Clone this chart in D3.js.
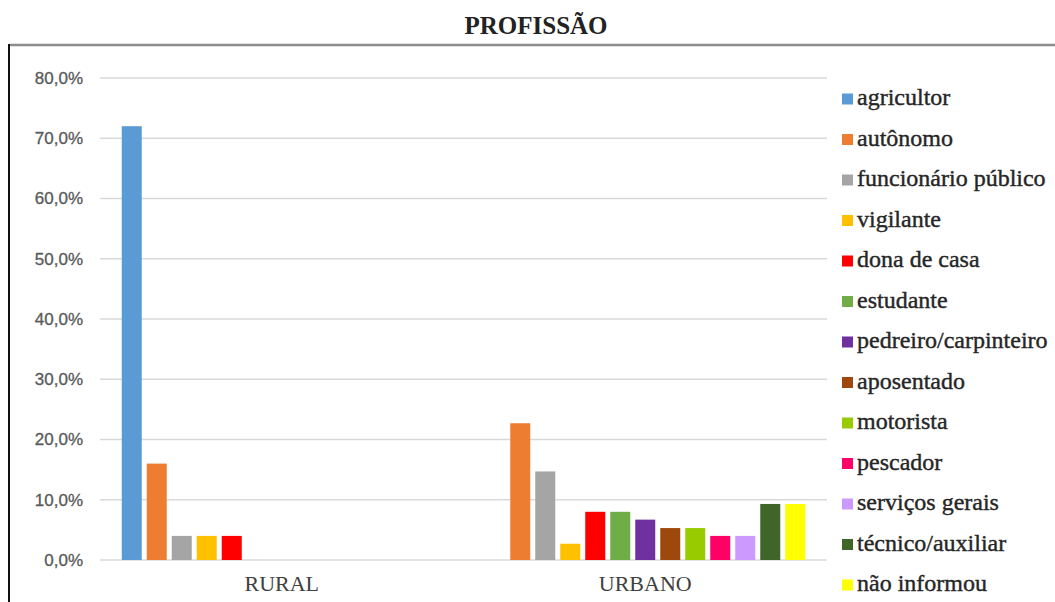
<!DOCTYPE html>
<html>
<head>
<meta charset="utf-8">
<script src="https://cdn.jsdelivr.net/npm/d3@7"></script>
<style>
  html, body { margin: 0; padding: 0; background: #ffffff; }
  svg { display: block; }
  .serif { font-family: "Liberation Serif", "Times New Roman", "DejaVu Serif", serif; }
  .sans { font-family: "Liberation Sans", Arial, sans-serif; }
</style>
</head>
<body>
<svg id="chart" width="1055" height="602"></svg>
<script>
// ---- data ----
const categories = ["RURAL", "URBANO"];
const series = [
  "agricultor", "autônomo", "funcionário público", "vigilante", "dona de casa",
  "estudante", "pedreiro/carpinteiro", "aposentado", "motorista", "pescador",
  "serviços gerais", "técnico/auxiliar", "não informou"
];
const ruralValues  = [72.0, 16.0, 4.0, 4.0, 4.0, 0, 0, 0, 0, 0, 0, 0, 0];
const urbanoValues = [0, 22.7, 14.7, 2.7, 8.0, 8.0, 6.7, 5.3, 5.3, 4.0, 4.0, 9.3, 9.3];
const seriesColors = [
  "#5B9BD5", "#ED7D31", "#A5A5A5", "#FFC000", "#FF0000",
  "#70AD47", "#7030A0", "#9E480E", "#99CC00", "#FF0066",
  "#CC99FF", "#3F6628", "#FFFF00"
];
const yTicks = [0, 10, 20, 30, 40, 50, 60, 70, 80];
const titleText = "PROFISSÃO";

const valuesByCategory = { "RURAL": ruralValues, "URBANO": urbanoValues };

const svg = d3.select("#chart");

// frame lines
svg.append("line").attr("x1", 9).attr("x2", 1055).attr("y1", 45).attr("y2", 45)
  .attr("stroke", "#8c8c8c").attr("stroke-width", 2.5);
svg.append("line").attr("x1", 9).attr("x2", 9).attr("y1", 44).attr("y2", 602)
  .attr("stroke", "#111").attr("stroke-width", 2);

// title
svg.append("text").attr("class", "serif").attr("x", 536).attr("y", 34).attr("text-anchor", "middle")
  .style("font-weight", "bold").style("font-size", "25px").attr("fill", "#222")
  .text(titleText);

// scales
const y = d3.scaleLinear().domain([0, 80]).range([560, 78]);
const x0 = d3.scaleBand().domain(categories).range([100, 827]).padding(0);
const x1 = d3.scaleBand().domain(series).range([0, x0.bandwidth()])
  .paddingInner(0.2).paddingOuter(0.87);
const color = d3.scaleOrdinal().domain(series).range(seriesColors);

// gridlines
svg.append("g").selectAll("line").data(yTicks).join("line")
  .attr("x1", 100).attr("x2", 827)
  .attr("y1", d => y(d)).attr("y2", d => y(d))
  .attr("stroke", "#d9d9d9").attr("stroke-width", 1.5);

// y axis labels
const yAxis = d3.axisLeft(y).tickValues(yTicks).tickSize(0).tickPadding(0)
  .tickFormat(d => d.toFixed(1).replace(".", ",") + "%");
const gy = svg.append("g").attr("transform", "translate(83,0)").call(yAxis);
gy.attr("font-family", null).attr("font-size", null);
gy.select(".domain").remove();
gy.selectAll("text").attr("class", "sans")
  .style("font-size", "17px").attr("fill", "#595959")
  .attr("stroke", "#595959").attr("stroke-width", 0.3);

// bars
const groups = svg.append("g").selectAll("g").data(categories).join("g")
  .attr("transform", d => `translate(${x0(d)},0)`);
groups.selectAll("rect")
  .data(c => series.map((s, i) => ({ s, v: valuesByCategory[c][i] })).filter(d => d.v > 0))
  .join("rect")
  .attr("x", d => x1(d.s))
  .attr("width", x1.bandwidth())
  .attr("y", d => y(d.v))
  .attr("height", d => y(0) - y(d.v))
  .attr("fill", d => color(d.s));

// category labels
const xAxis = d3.axisBottom(x0).tickSize(0).tickPadding(0);
const gx = svg.append("g").attr("transform", "translate(0,575)").call(xAxis);
gx.attr("font-family", null).attr("font-size", null);
gx.select(".domain").remove();
gx.selectAll("text").attr("class", "serif")
  .style("font-size", "22px").attr("fill", "#404040");

// legend
const ly = d3.scalePoint().domain(series).range([99, 585]);
const leg = svg.append("g").selectAll("g").data(series).join("g")
  .attr("transform", d => `translate(842,${ly(d)})`);
leg.append("rect").attr("x", 0).attr("y", -5.5).attr("width", 11).attr("height", 11)
  .attr("fill", d => color(d));
leg.append("text").attr("class", "serif").attr("x", 15).attr("y", 6)
  .style("font-size", "24px").attr("fill", "#262626")
  .attr("stroke", "#262626").attr("stroke-width", 0.4)
  .text(d => d);
</script>
</body>
</html>
